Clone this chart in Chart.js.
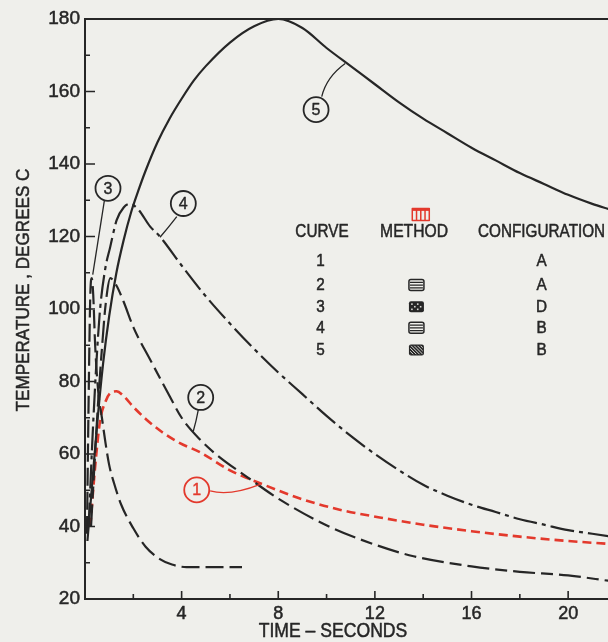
<!DOCTYPE html>
<html><head><meta charset="utf-8">
<script src="https://cdn.jsdelivr.net/npm/chart.js@4.4.0/dist/chart.umd.min.js"></script>
<style>html,body{margin:0;padding:0;background:#efefeb;}canvas{display:block;}</style>
</head><body>
<canvas id="c" width="608" height="642"></canvas>
<script>
// ---- data ----
const curve1X = [0.22,0.4,0.62,0.85,1.05,1.3,1.6,2.0,2.56,3.2,3.93,4.76,6.0,7.37,9.0,10.5,12.2,14.0,16.0,18.0,20.0,21.7];
const curve1Y = [40,55,69,74.5,76.8,77.3,76,73,69.4,66,63,60.5,55.5,51.6,47.5,44.7,42.5,40.5,38.7,37.2,36,35.2];
const curve2X = [0.25,0.4,0.55,0.7,0.85,1.05,1.3,1.6,2.0,2.7,3.5,4.0,4.76,5.5,6.7,8.07,10.1,12,13.6,16,18,20,21.7];
const curve2Y = [40,58,75,89,101,108.5,106.5,102,95,86,76,70,64,59.5,53.7,47.4,40,35,31.8,29,27.5,26.5,25];
const curve3X = [0.08,0.15,0.22,0.28,0.34,0.42,0.55,0.7,0.85,1.0,1.2,1.5,2.0,2.5,3.1,3.6,4.2,5.0,6.5];
const curve3Y = [38,75,104,108.5,104,90,77,70,63,57,52,46,39.5,34.5,31,29.5,28.8,28.8,28.8];
const curve4X = [0.15,0.35,0.6,0.83,1.04,1.31,1.6,1.86,2.2,2.69,3.1,4,5,6,7,8,9,10,11,12,13,14,15,16,17,18,19,20,21,21.7];
const curve4Y = [40,70,98,110.8,117,124.5,128,129,127.5,122.8,120,112,103.5,96,89,82.5,76.5,70.5,65,60,55.5,51.5,48.5,46,44,42,40.5,39,38,37.3];
const curve5X = [0.1,0.3,0.5,0.75,1.0,1.3,1.6,1.9,2.2,2.5,3,3.5,4,4.5,5,6,7,8,9,10,11,12,13,14,15,16,17,18,19,20,21,21.7];
const curve5Y = [36,52,68,85,98,110,119,126.5,132.5,138,146,152.5,158,163,167,173.5,178,180,177.5,172,167,162,157,152.5,148.5,144.5,141,137.5,134.5,131.5,129,127.5];

const xTickValues = [4,8,12,16,20];
const yTickValues = [20,40,60,80,100,120,140,160,180];

const tableCurves = ['1','2','3','4','5'];
const tableMethods = ['', 'lines', 'dots', 'lines', 'hatch'];
const tableConfigs = ['A','A','D','B','B'];

// ---- styles ----
const INK = '#262626';
const RED = '#e3392c';
const BG = '#efefeb';
const FONT = "'Liberation Sans',Arial,sans-serif";
const TEXT_STROKE = 0.5;

function pts(xs, ys){ return xs.map((x,i)=>({x, y: ys[i]})); }

const baseDs = {pointRadius:0, borderWidth:2.2, fill:false, cubicInterpolationMode:'monotone', borderColor:INK};
const datasets = [
  Object.assign({}, baseDs, {label:'5', data:pts(curve5X,curve5Y)}),
  Object.assign({}, baseDs, {label:'4', data:pts(curve4X,curve4Y), borderDash:[24,5,4,5]}),
  Object.assign({}, baseDs, {label:'3', data:pts(curve3X,curve3Y), borderDash:[18,6]}),
  Object.assign({}, baseDs, {label:'2', data:pts(curve2X,curve2Y), borderDash:[22,6,12,6]}),
  Object.assign({}, baseDs, {label:'1', data:pts(curve1X,curve1Y), borderDash:[9,5], borderColor:RED, borderWidth:2.6}),
];

// annotation callouts (data coordinates)
const callouts = [
  {text:'5', at:[9.565,155.0], from:[9.80,158.6], ctrl:[10.0,164.0], to:[10.77,167.7], color:INK},
  {text:'3', at:[0.952,133.3], from:[0.80,129.8], ctrl:[0.55,119], to:[0.32,109.5], color:INK},
  {text:'4', at:[4.07,129.1], from:[3.80,125.5], ctrl:[3.45,122.5], to:[3.105,119.8], color:INK},
  {text:'2', at:[4.79,75.6], from:[4.69,72.2], ctrl:[4.6,69], to:[4.48,66.2], color:INK},
  {text:'1', at:[4.625,50.1], from:[5.18,49.8], ctrl:[6.0,48.3], to:[7.25,51.6], color:RED},
];
const tablePos = {headerY:121.3, rowY:[113.2,106.6,100.6,94.8,88.7], curveX:9.75, methodX:13.72, configX:18.9, headerCurveX:9.81, headerMethodX:13.62, iconY:126.1, iconX:13.9};

function condText(ctx, text, x, y, sx){
  ctx.save(); ctx.translate(x, y); ctx.scale(sx, 1);
  ctx.strokeText(text, 0, 0); ctx.fillText(text, 0, 0);
  ctx.restore();
}

const decor = {
  id:'decor',
  afterDraw(chart){
    const {ctx, chartArea:a, scales:{x, y}} = chart;
    const X = v => x.getPixelForValue(v), Y = v => y.getPixelForValue(v);
    ctx.save();
    // top frame line
    ctx.strokeStyle = INK; ctx.lineWidth = 2;
    ctx.beginPath(); ctx.moveTo(a.left, a.top); ctx.lineTo(a.right, a.top); ctx.stroke();
    // inward ticks
    ctx.lineWidth = 1.6;
    ctx.beginPath();
    for (let v = 2; v <= x.max; v += 2){
      const px = X(v), len = v % 4 === 0 ? 8 : 5;
      ctx.moveTo(px, a.bottom); ctx.lineTo(px, a.bottom - len);
    }
    for (let v = 30; v < 180; v += 10){
      const py = Y(v), len = v % 20 === 0 ? 10 : 5;
      ctx.moveTo(a.left, py); ctx.lineTo(a.left + len, py);
    }
    ctx.stroke();

    // axis titles
    ctx.fillStyle = INK; ctx.strokeStyle = INK; ctx.lineWidth = TEXT_STROKE; ctx.lineJoin = 'round';
    ctx.font = "20px " + FONT;
    ctx.textAlign = 'center'; ctx.textBaseline = 'middle';
    condText(ctx, 'TIME \u2013 SECONDS', 333, 631, 0.88);
    ctx.save(); ctx.translate(24, 290); ctx.rotate(-Math.PI/2);
    ctx.font = "19px " + FONT;
    condText(ctx, 'TEMPERATURE , DEGREES C', 0, 0, 0.9);
    ctx.restore();

    // callouts
    callouts.forEach(c => {
      ctx.strokeStyle = c.color;
      ctx.lineWidth = 1.3;
      ctx.beginPath(); ctx.moveTo(X(c.from[0]), Y(c.from[1]));
      ctx.quadraticCurveTo(X(c.ctrl[0]), Y(c.ctrl[1]), X(c.to[0]), Y(c.to[1])); ctx.stroke();
      ctx.fillStyle = BG;
      ctx.lineWidth = 1.8;
      ctx.beginPath(); ctx.arc(X(c.at[0]), Y(c.at[1]), 12.5, 0, Math.PI*2); ctx.fill(); ctx.stroke();
      ctx.fillStyle = c.color;
      ctx.lineWidth = 0.4;
      ctx.font = "16px " + FONT;
      condText(ctx, c.text, X(c.at[0]), Y(c.at[1]) + 1, 1);
    });

    // table
    ctx.fillStyle = INK; ctx.strokeStyle = INK; ctx.lineWidth = TEXT_STROKE;
    ctx.font = "18px " + FONT;
    const hy = Y(tablePos.headerY);
    condText(ctx, 'CURVE', X(tablePos.headerCurveX), hy, 0.85);
    condText(ctx, 'METHOD', X(tablePos.headerMethodX), hy, 0.87);
    condText(ctx, 'CONFIGURATION', X(tablePos.configX), hy, 0.85);
    ctx.font = "17px " + FONT;
    tableCurves.forEach((t,i) => {
      const py = Y(tablePos.rowY[i]);
      condText(ctx, t, X(tablePos.curveX), py, 0.9);
      condText(ctx, tableConfigs[i], X(tablePos.configX), py, 0.9);
      drawIcon(ctx, tableMethods[i], X(tablePos.methodX), py);
    });
    // red icon
    const rx = X(tablePos.iconX), ry = Y(tablePos.iconY);
    ctx.strokeStyle = RED; ctx.lineWidth = 1.5;
    ctx.strokeRect(rx-8.5, ry-6, 17, 12);
    ctx.beginPath();
    for (let k=1;k<4;k++){ ctx.moveTo(rx-8.5+k*4.25, ry-6); ctx.lineTo(rx-8.5+k*4.25, ry+6); }
    ctx.stroke();
    ctx.fillStyle = RED; ctx.fillRect(rx-8.5, ry-6, 17, 2.5);
    ctx.restore();
  }
};

function drawIcon(ctx, type, cx, cy){
  if (!type) return;
  const w = 15, h = 11, l = cx - w/2, t = cy - h/2;
  ctx.save();
  ctx.lineWidth = 1.5; ctx.strokeStyle = INK;
  if (type === 'lines'){
    ctx.beginPath(); ctx.roundRect(l, t, w, h, 2); ctx.stroke();
    ctx.beginPath();
    for (let k=1;k<4;k++){ ctx.moveTo(l+1, t + k*h/4); ctx.lineTo(l+w-1, t + k*h/4); }
    ctx.lineWidth = 1.3; ctx.stroke();
  } else if (type === 'dots'){
    ctx.fillStyle = INK; ctx.beginPath(); ctx.roundRect(l, t, w, h, 2); ctx.fill();
    ctx.fillStyle = '#d8d8d4';
    for (let i=0;i<4;i++) for (let j=0;j<3;j++){
      if ((i+j)%2===0) ctx.fillRect(l+2.2+i*2.9, t+2+j*2.6, 1.6, 1.6);
    }
  } else if (type === 'hatch'){
    ctx.fillStyle = INK; ctx.beginPath(); ctx.roundRect(l, t, w, h, 2); ctx.fill();
    ctx.save(); ctx.beginPath(); ctx.rect(l+1.2, t+1.2, w-2.4, h-2.4); ctx.clip();
    ctx.strokeStyle = '#d8d8d4'; ctx.lineWidth = 1;
    ctx.beginPath();
    for (let k=-12;k<18;k+=3.2){ ctx.moveTo(l+k, t); ctx.lineTo(l+k+h, t+h); }
    ctx.stroke(); ctx.restore();
  }
  ctx.restore();
}

new Chart(document.getElementById('c'), {
  type:'line',
  data:{datasets},
  options:{
    responsive:false, animation:false, devicePixelRatio:1,
    layout:{padding:{top:19, right:0, left:0, bottom:0}},
    plugins:{legend:{display:false}, tooltip:{enabled:false}},
    scales:{
      x:{type:'linear', min:0, max:21.65,
        grid:{display:false, drawTicks:false},
        border:{display:true, color:INK, width:2},
        afterFit(s){ s.height = 43; },
        afterBuildTicks(s){ s.ticks = xTickValues.map(v=>({value:v})); },
        ticks:{color:INK, font:{family:FONT, size:18}, padding:4, includeBounds:false, maxRotation:0,
               textStrokeColor:INK, textStrokeWidth:TEXT_STROKE}
      },
      y:{type:'linear', min:20, max:180,
        grid:{display:false, drawTicks:false},
        border:{display:true, color:INK, width:2},
        afterFit(s){ s.width = 85; },
        afterBuildTicks(s){ s.ticks = yTickValues.map(v=>({value:v})); },
        ticks:{color:INK, font:{family:FONT, size:19}, padding:5,
               textStrokeColor:INK, textStrokeWidth:TEXT_STROKE}
      }
    }
  },
  plugins:[decor]
});
</script>
</body></html>
